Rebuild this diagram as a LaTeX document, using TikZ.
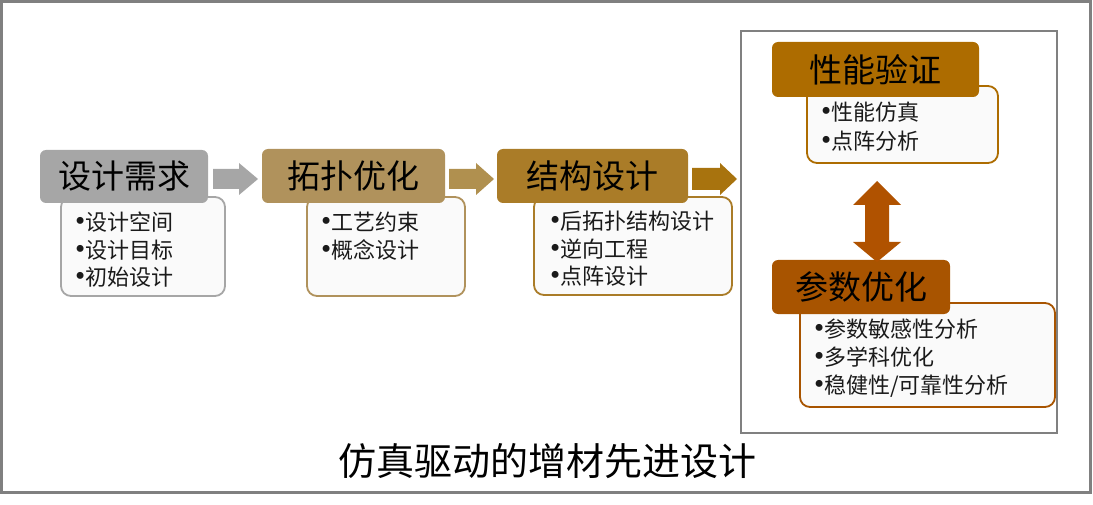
\documentclass[tikz,border=0pt]{standalone}
\usepackage{fontspec}
\newfontfamily\cjk{Noto Sans CJK SC}
\newfontfamily\latinb{Liberation Serif}
\newcommand{\bul}{{\latinb\fontsize{29}{29}\selectfont •}}
\definecolor{cGray}{HTML}{A6A6A6}
\definecolor{cTan}{HTML}{B0925C}
\definecolor{cTanA}{HTML}{B0904F}
\definecolor{cGold}{HTML}{AA7C28}
\definecolor{cGoldA}{HTML}{A8730E}
\definecolor{cAmber}{HTML}{AD6C00}
\definecolor{cRust}{HTML}{A85400}
\definecolor{cRustA}{HTML}{B05200}
\definecolor{frameGray}{HTML}{808080}
\definecolor{txt}{HTML}{1A1A1A}
\tikzset{
  hdr/.style={inner sep=0pt, font=\cjk\fontsize{33}{38}\selectfont, text=black},
  subbox/.style={rounded corners=10pt, line width=1.8pt, fill=white!98!black},
  item/.style={anchor=west, inner sep=0pt, font=\cjk\fontsize{22}{26}\selectfont, text=txt},
}
\begin{document}
\begin{tikzpicture}[x=1pt,y=-1pt]
\useasboundingbox (0,0) rectangle (1093,505);
% outer frame
\draw[frameGray, line width=3pt] (1.5,1.5) rectangle (1090.5,492);
% right panel
\draw[frameGray, line width=2pt] (741,31) rectangle (1057,433);

% sub boxes
\draw[subbox, draw=cGray] (61,197) rectangle (225,296);
\draw[subbox, draw=cTan] (307,197) rectangle (465,296);
\draw[subbox, draw=cGold] (534,197) rectangle (732,295);
\draw[subbox, draw=cAmber] (807,86) rectangle (998,163);
\draw[subbox, draw=cRust] (800,303) rectangle (1055,407);

% headers
\fill[cGray, rounded corners=6pt] (40,150) rectangle (208,203);
\node[hdr] (h1) at (124,176.5) {设计需求};
\fill[cTan, rounded corners=6pt] (262,149) rectangle (445,203);
\node[hdr] (h2) at (353.5,176) {拓扑优化};
\fill[cGold, rounded corners=6pt] (497,149) rectangle (688,203);
\node[hdr] (h3) at (592.5,176) {结构设计};
\fill[cAmber, rounded corners=6pt] (772,42) rectangle (979,97);
\node[hdr] (h4) at (875.5,69.5) {性能验证};
\fill[cRust, rounded corners=6pt] (772,260) rectangle (950,314);
\node[hdr] (h5) at (861,287) {参数优化};

% items
\node[item] (a1) at (75,222) {\bul 设计空间};
\node[item] (a2) at (75,250) {\bul 设计目标};
\node[item] (a3) at (75,277) {\bul 初始设计};
\node[item] (b1) at (321,222) {\bul 工艺约束};
\node[item] (b2) at (321,250) {\bul 概念设计};
\node[item] (c1) at (550,221) {\bul 后拓扑结构设计};
\node[item] (c2) at (550,249) {\bul 逆向工程};
\node[item] (c3) at (550,276) {\bul 点阵设计};
\node[item] (d1) at (821,112) {\bul 性能仿真};
\node[item] (d2) at (821,141) {\bul 点阵分析};
\node[item] (e1) at (814,329) {\bul 参数敏感性分析};
\node[item] (e2) at (814,357) {\bul 多学科优化};
\node[item] (e3) at (814,386) {\bul 稳健性/可靠性分析};

% flow arrows
\fill[cGray] (213,169) -- (239,169) -- (239,163) -- (258,179) -- (239,195) -- (239,189) -- (213,189) -- cycle;
\fill[cTanA] (449,169) -- (476,169) -- (476,163) -- (494,179) -- (476,195) -- (476,189) -- (449,189) -- cycle;
\fill[cGoldA] (692,168) -- (720,168) -- (720,163) -- (737,179) -- (720,195) -- (720,190) -- (692,190) -- cycle;
% double arrow
\fill[cRustA] (877,181) -- (901,205) -- (889,205) -- (889,242) -- (901,242) -- (877,262) -- (853,242) -- (865,242) -- (865,205) -- (853,205) -- cycle;

% title
\node[font=\cjk\fontsize{38}{42}\selectfont, text=black, inner sep=0pt] (title) at (547,461) {仿真驱动的增材先进设计};
\end{tikzpicture}
\end{document}
